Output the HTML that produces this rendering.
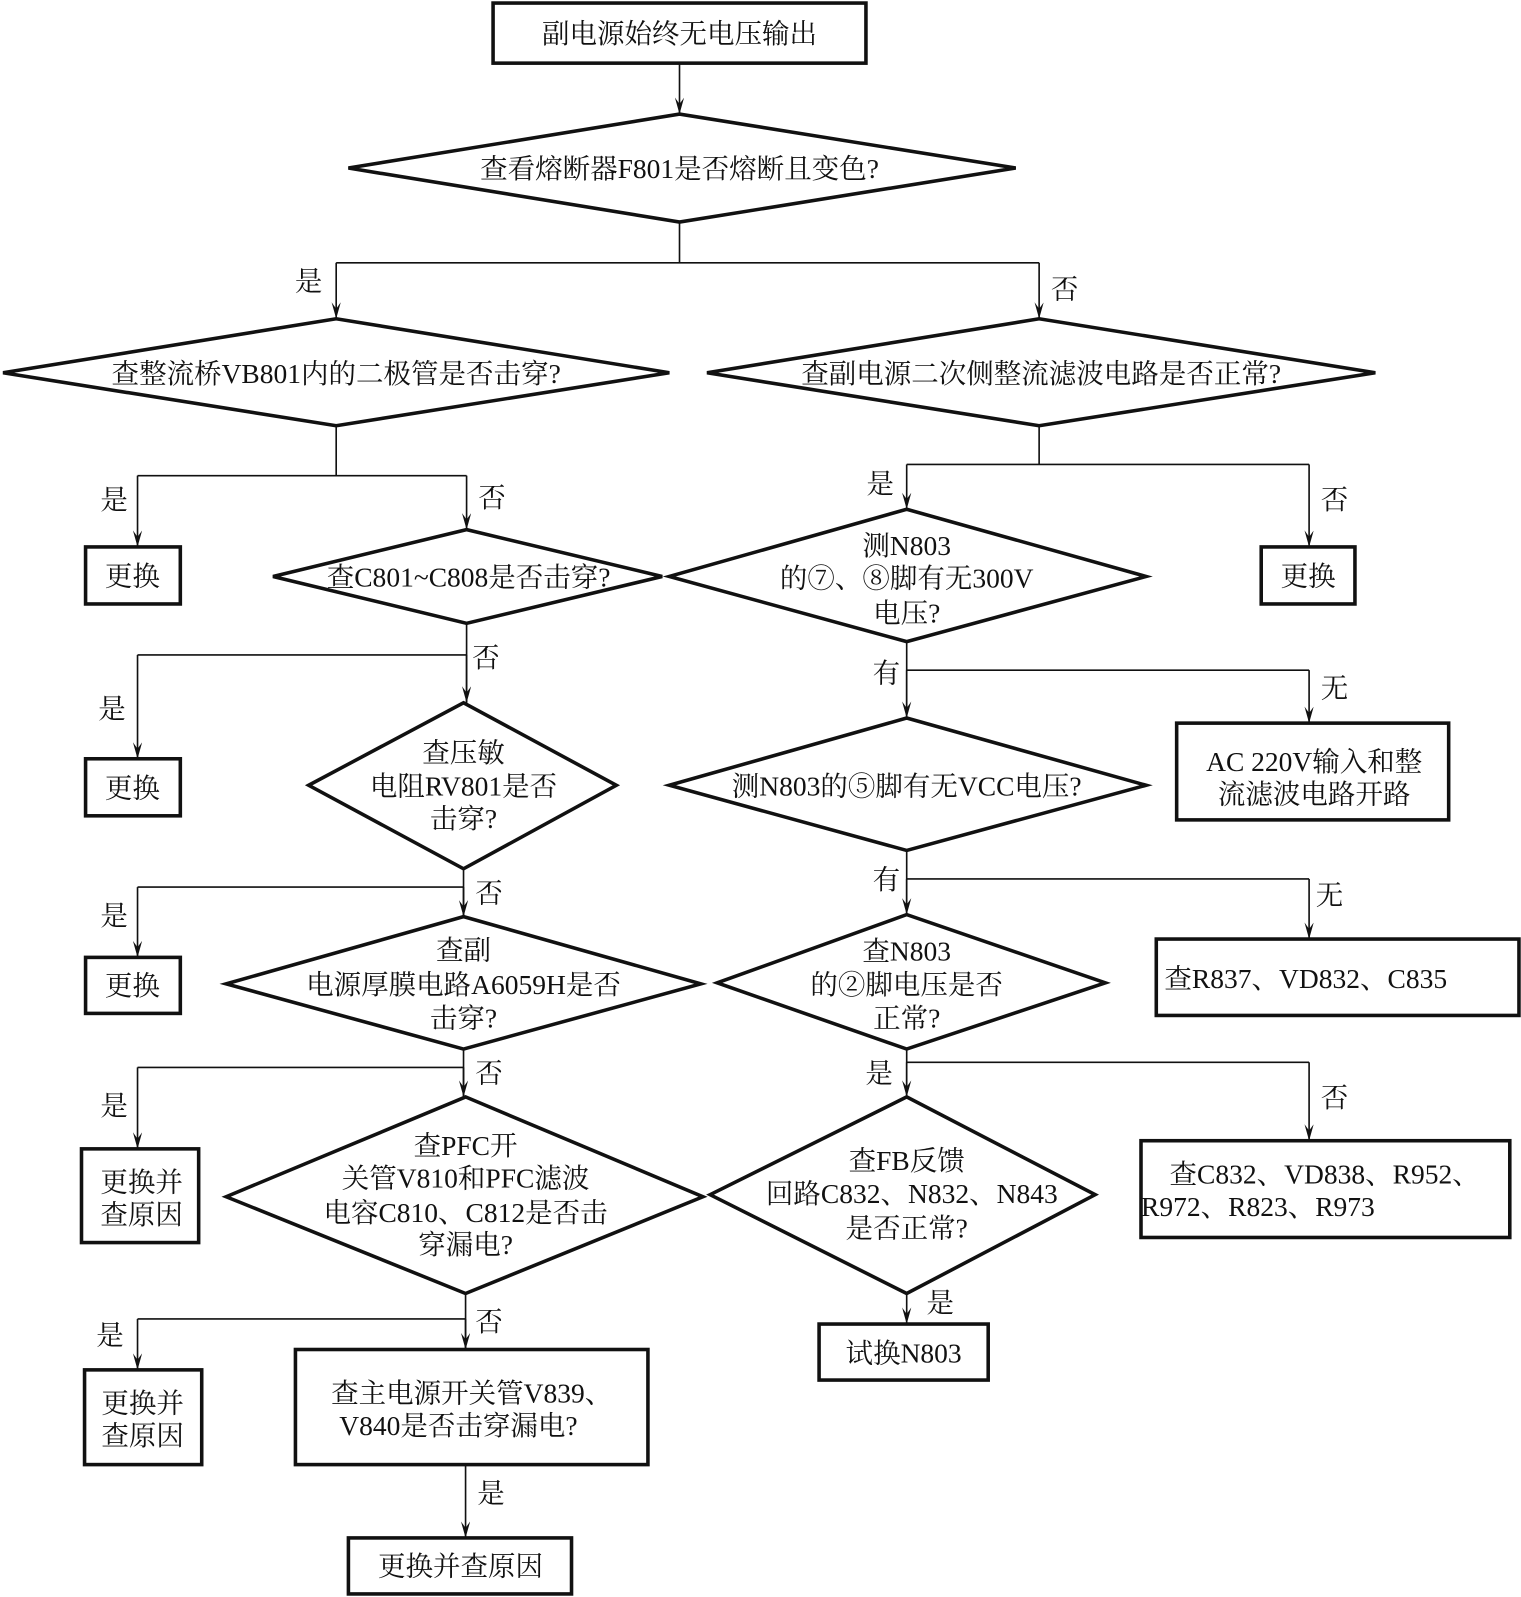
<!DOCTYPE html>
<html><head><meta charset="utf-8"><style>
html,body{margin:0;padding:0;background:#fff}
svg{display:block}
text{font-family:"Liberation Serif","Noto Serif CJK SC",serif;font-size:27px;fill:#111;text-anchor:middle}
.l{text-anchor:start}
.t{fill:none;stroke:#111;stroke-width:3.5}
.c{fill:none;stroke:#111;stroke-width:1.6}
</style></head><body>
<svg width="1521" height="1597" viewBox="0 0 1493 1568" preserveAspectRatio="none" xmlns="http://www.w3.org/2000/svg">
<defs><marker id="a" viewBox="0 0 10 20" refX="5" refY="20" markerWidth="10" markerHeight="20" markerUnits="userSpaceOnUse" orient="auto-start-reverse"><path d="M0,0 L5,20 L10,0 L5,8 Z" fill="#111" transform="rotate(0)"/></marker>
<marker id="d" viewBox="0 0 10 20" refX="5" refY="20" markerWidth="9" markerHeight="18" markerUnits="userSpaceOnUse"><path d="M0,2 L5,20 L10,2 L5,9 Z" fill="#111"/></marker></defs>

<!-- top -->
<rect class="t" x="484" y="3" width="366" height="59"/>
<text x="667" y="42">副电源始终无电压输出</text>
<path class="c" d="M667,62 V112" marker-end="url(#d)"/>
<path class="t" d="M342,165 L667,112 L997,165 L667,218 Z"/>
<text x="667" y="175">查看熔断器F801是否熔断且变色?</text>
<path class="c" d="M667,218 V258 M330,258 H1020"/>
<path class="c" d="M330,258 V313" marker-end="url(#d)"/>
<path class="c" d="M1020,258 V313" marker-end="url(#d)"/>
<text x="303" y="285">是</text><text x="1045" y="293">否</text>

<path class="t" d="M3,366 L330,313 L657,366 L330,418 Z"/>
<text x="330" y="376">查整流桥VB801内的二极管是否击穿?</text>
<path class="t" d="M694,366 L1020,313 L1350,366 L1020,418 Z"/>
<text x="1022" y="376">查副电源二次侧整流滤波电路是否正常?</text>

<!-- left column -->
<path class="c" d="M330,418 V467 M135,467 H458"/>
<path class="c" d="M135,467 V537" marker-end="url(#d)"/>
<path class="c" d="M458,467 V520" marker-end="url(#d)"/>
<text x="112" y="500">是</text><text x="483" y="498">否</text>
<rect class="t" x="84" y="537" width="93" height="56"/><text x="130" y="575">更换</text>
<path class="t" d="M268,566 L458,520 L650,566 L458,612 Z"/>
<text x="460" y="576">查C801~C808是否击穿?</text>

<path class="c" d="M458,612 V690 M135,643 H458"/>
<path class="c" d="M135,643 V745" marker-end="url(#d)"/>
<path class="c" d="M458,643 V690" marker-end="url(#d)"/>
<text x="477" y="655">否</text><text x="110" y="705">是</text>
<rect class="t" x="84" y="745" width="93" height="56"/><text x="130" y="783">更换</text>
<path class="t" d="M303,771 L455,690 L605,771 L455,853 Z"/>
<text x="455" y="748">查压敏</text><text x="455" y="781">电阻RV801是否</text><text x="455" y="813">击穿?</text>

<path class="c" d="M455,853 V900 M135,871 H455"/>
<path class="c" d="M135,871 V940" marker-end="url(#d)"/>
<path class="c" d="M455,871 V900" marker-end="url(#d)"/>
<text x="480" y="886">否</text><text x="112" y="908">是</text>
<rect class="t" x="84" y="940" width="93" height="55"/><text x="130" y="977">更换</text>
<path class="t" d="M222,966 L455,900 L688,966 L455,1030 Z"/>
<text x="455" y="942">查副</text><text x="455" y="976">电源厚膜电路A6059H是否</text><text x="455" y="1009">击穿?</text>

<path class="c" d="M455,1030 V1077 M135,1048 H455"/>
<path class="c" d="M135,1048 V1128" marker-end="url(#d)"/>
<path class="c" d="M455,1048 V1077" marker-end="url(#d)"/>
<text x="480" y="1063">否</text><text x="112" y="1095">是</text>
<rect class="t" x="80" y="1128" width="115" height="92"/>
<text x="139" y="1170">更换并</text><text x="139" y="1202">查原因</text>
<path class="t" d="M222,1175 L457,1077 L690,1175 L457,1270 Z"/>
<text x="457" y="1134">查PFC开</text><text x="457" y="1166">关管V810和PFC滤波</text><text x="457" y="1200">电容C810、C812是否击</text><text x="457" y="1231">穿漏电?</text>

<path class="c" d="M457,1270 V1325 M135,1295 H457"/>
<path class="c" d="M135,1295 V1345" marker-end="url(#d)"/>
<path class="c" d="M457,1295 V1325" marker-end="url(#d)"/>
<text x="480" y="1307">否</text><text x="108" y="1320">是</text>
<rect class="t" x="83" y="1345" width="115" height="93"/>
<text x="140" y="1387">更换并</text><text x="140" y="1419">查原因</text>
<rect class="t" x="290" y="1325" width="346" height="113"/>
<text x="463" y="1377">查主电源开关管V839、</text><text x="450" y="1409">V840是否击穿漏电?</text>
<path class="c" d="M457,1438 V1510" marker-end="url(#d)"/>
<text x="482" y="1475">是</text>
<rect class="t" x="342" y="1510" width="219" height="55"/>
<text x="452" y="1547">更换并查原因</text>

<!-- right column -->
<path class="c" d="M1020,418 V456 M890,456 H1285"/>
<path class="c" d="M890,456 V500" marker-end="url(#d)"/>
<path class="c" d="M1285,456 V537" marker-end="url(#d)"/>
<text x="864" y="484">是</text><text x="1310" y="500">否</text>
<rect class="t" x="1238" y="537" width="92" height="56"/><text x="1284" y="575">更换</text>
<path class="t" d="M657,566 L890,500 L1125,566 L890,630 Z"/>
<text x="890" y="545">测N803</text><text x="890" y="577">的⑦、⑧脚有无300V</text><text x="890" y="611">电压?</text>

<path class="c" d="M890,630 V705 M890,658 H1285"/>
<path class="c" d="M890,658 V705" marker-end="url(#d)"/>
<path class="c" d="M1285,658 V710" marker-end="url(#d)"/>
<text x="870" y="670">有</text><text x="1310" y="685">无</text>
<rect class="t" x="1155" y="710" width="267" height="95"/>
<text x="1290" y="757">AC 220V输入和整</text><text x="1290" y="789">流滤波电路开路</text>
<path class="t" d="M657,771 L890,705 L1125,771 L890,835 Z"/>
<text x="890" y="781">测N803的⑤脚有无VCC电压?</text>

<path class="c" d="M890,835 V898 M890,863 H1285"/>
<path class="c" d="M890,863 V898" marker-end="url(#d)"/>
<path class="c" d="M1285,863 V922" marker-end="url(#d)"/>
<text x="870" y="873">有</text><text x="1305" y="888">无</text>
<rect class="t" x="1135" y="922" width="356" height="75"/>
<text class="l" x="1143" y="970">查R837、VD832、C835</text>
<path class="t" d="M704,965 L890,898 L1085,965 L890,1030 Z"/>
<text x="890" y="943">查N803</text><text x="890" y="976">的②脚电压是否</text><text x="890" y="1009">正常?</text>

<path class="c" d="M890,1030 V1077 M890,1043 H1285"/>
<path class="c" d="M890,1043 V1077" marker-end="url(#d)"/>
<path class="c" d="M1285,1043 V1120" marker-end="url(#d)"/>
<text x="863" y="1063">是</text><text x="1310" y="1087">否</text>
<rect class="t" x="1120" y="1120" width="362" height="95"/>
<text class="l" x="1148" y="1162">查C832、VD838、R952、</text><text class="l" x="1120" y="1194">R972、R823、R973</text>
<path class="t" d="M697,1173 L890,1077 L1075,1173 L890,1270 Z"/>
<text x="890" y="1149">查FB反馈</text><text x="895" y="1181">回路C832、N832、N843</text><text x="890" y="1215">是否正常?</text>
<path class="c" d="M890,1270 V1300" marker-end="url(#d)"/>
<text x="923" y="1288">是</text>
<rect class="t" x="804" y="1300" width="166" height="55"/>
<text x="887" y="1338">试换N803</text>
</svg>
</body></html>
